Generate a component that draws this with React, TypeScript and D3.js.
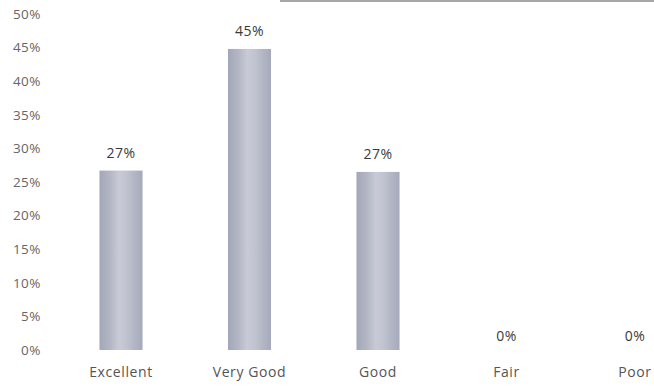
import React from "react";
import * as d3 from "d3";

const categories = ["Excellent", "Very Good", "Good", "Fair", "Poor"];
const values = [26.7, 44.8, 26.5, 0, 0];
const yTicks = [0, 5, 10, 15, 20, 25, 30, 35, 40, 45, 50];

const W = 654;
const H = 391;

export default function App() {
  const x = d3
    .scaleBand<string>()
    .domain(categories)
    .range([56.75, 699.25])
    .paddingInner(0.665)
    .paddingOuter(0.3325);
  const y = d3.scaleLinear().domain([0, 50]).range([350, 14]);
  const font = "'Open Sans', 'Liberation Sans', sans-serif";

  return (
    <svg
      width={W}
      height={H}
      style={{ position: "absolute", left: 0, top: 0, background: "#fff" }}
    >
      <defs>
        <linearGradient id="barGrad" x1="0" x2="1" y1="0" y2="0">
          <stop offset="0%" stopColor="#a2a6b7" />
          <stop offset="25%" stopColor="#b3b7c5" />
          <stop offset="45%" stopColor="#c8cbd6" />
          <stop offset="60%" stopColor="#c2c5d1" />
          <stop offset="80%" stopColor="#b3b7c5" />
          <stop offset="100%" stopColor="#a5a9ba" />
        </linearGradient>
      </defs>
      <rect width={W} height={H} fill="#fff" />
      <line x1={280} x2={W} y1={1} y2={1} stroke="#8a8a8a" strokeWidth={1.5} />
      {yTicks.map((t) => (
        <text
          key={t}
          x={41}
          y={y(t)}
          dy="0.35em"
          textAnchor="end"
          fontFamily={font}
          fontSize={13.5}
          letterSpacing={0.5}
          fill="#666"
        >
          {t}%
        </text>
      ))}
      {categories.map((c, i) => {
        const v = values[i];
        const bx = x(c) as number;
        const bw = x.bandwidth();
        return (
          <g key={c}>
            {v > 0 && (
              <rect x={bx} y={y(v)} width={bw} height={y(0) - y(v)} fill="url(#barGrad)" />
            )}
            <text
              x={bx + bw / 2}
              y={y(v) - (v > 0 ? 13 : 9)}
              textAnchor="middle"
              fontFamily={font}
              fontSize={14}
              letterSpacing={0.5}
              fill="#3a3a3a"
            >
              {Math.round(v)}%
            </text>
            <text
              x={bx + bw / 2}
              y={372}
              dy="0.35em"
              textAnchor="middle"
              fontFamily={font}
              fontSize={14}
              letterSpacing={0.6}
              fill="#555"
            >
              {c}
            </text>
          </g>
        );
      })}
    </svg>
  );
}
